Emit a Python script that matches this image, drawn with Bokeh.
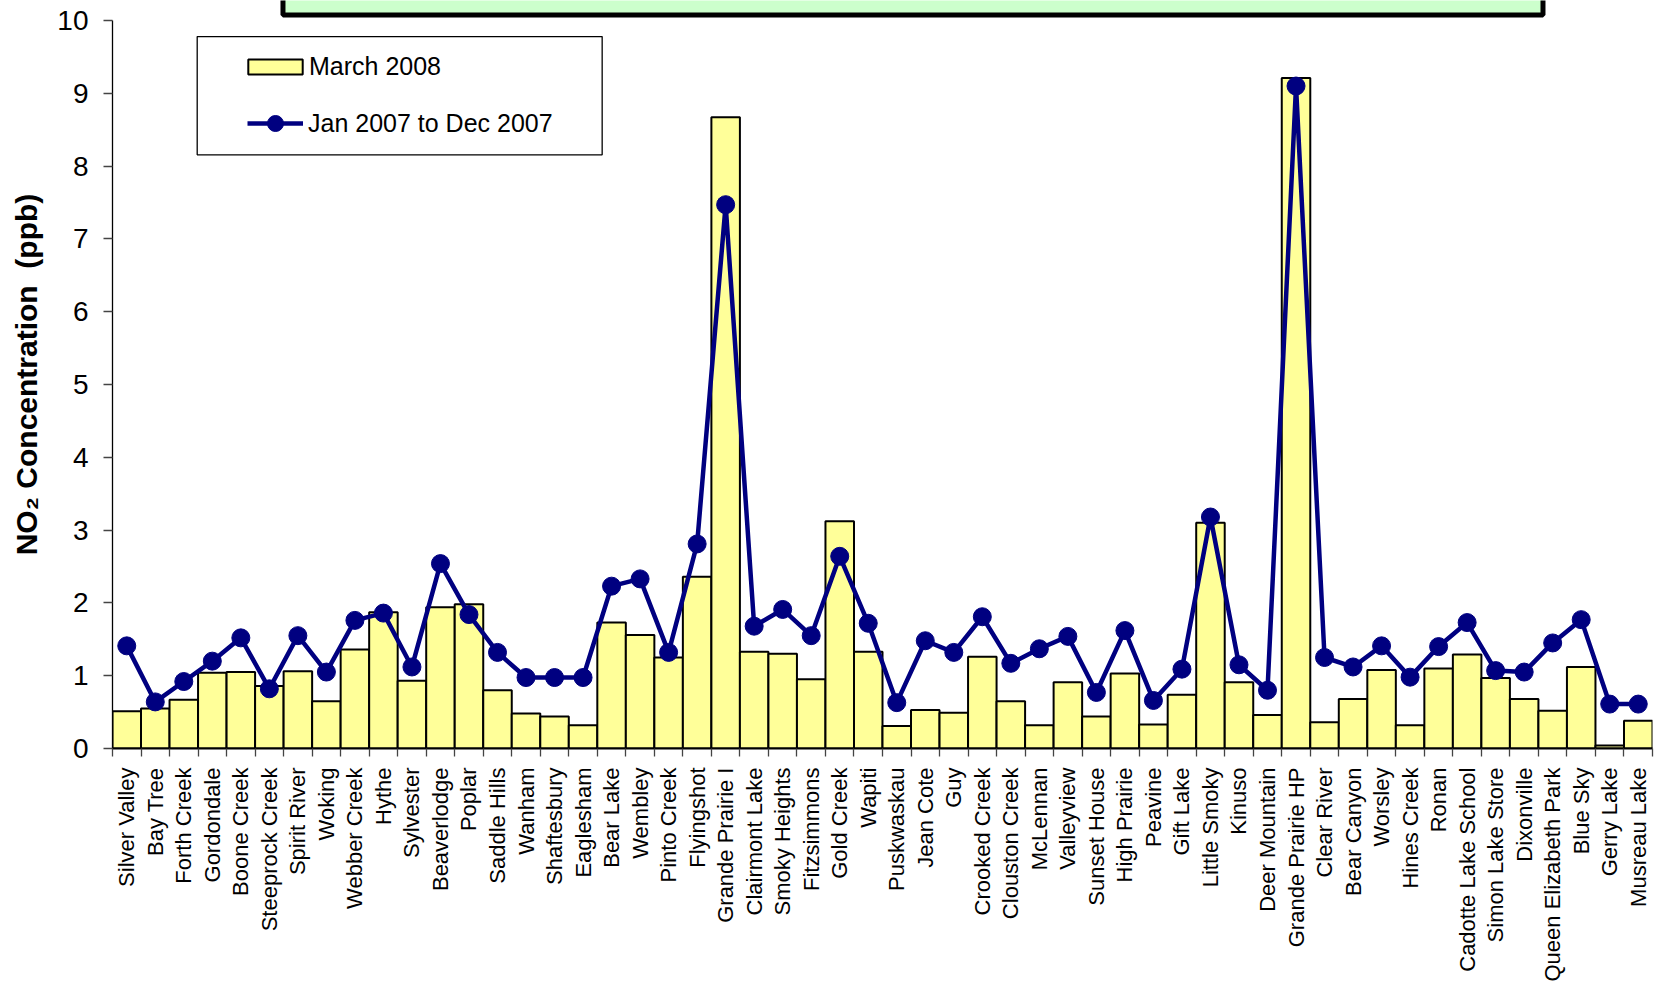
import math
from bokeh.plotting import figure
from bokeh.models import (Range1d, FixedTicker, LinearAxis, Legend, LegendItem,
                          BoxAnnotation, ColumnDataSource)
from bokeh.embed import file_html
from bokeh.resources import INLINE

sites = ["Silver Valley", "Bay Tree", "Forth Creek", "Gordondale", "Boone Creek",
         "Steeprock Creek", "Spirit River", "Woking", "Webber Creek", "Hythe",
         "Sylvester", "Beaverlodge", "Poplar", "Saddle Hills", "Wanham",
         "Shaftesbury", "Eaglesham", "Bear Lake", "Wembley", "Pinto Creek",
         "Flyingshot", "Grande Prairie I", "Clairmont Lake", "Smoky Heights",
         "Fitzsimmons", "Gold Creek", "Wapiti", "Puskwaskau", "Jean Cote", "Guy",
         "Crooked Creek", "Clouston Creek", "McLennan", "Valleyview", "Sunset House",
         "High Prairie", "Peavine", "Gift Lake", "Little Smoky", "Kinuso",
         "Deer Mountain", "Grande Prairie HP", "Clear River", "Bear Canyon",
         "Worsley", "Hines Creek", "Ronan", "Cadotte Lake School", "Simon Lake Store",
         "Dixonville", "Queen Elizabeth Park", "Blue Sky", "Gerry Lake", "Musreau Lake"]

march_2008 = [0.51, 0.55, 0.67, 1.04, 1.05, 0.86, 1.06, 0.65, 1.36, 1.87,
              0.93, 1.94, 1.98, 0.80, 0.48, 0.44, 0.32, 1.73, 1.56, 1.25,
              2.36, 8.67, 1.33, 1.30, 0.95, 3.12, 1.33, 0.31, 0.53, 0.49,
              1.26, 0.65, 0.32, 0.91, 0.44, 1.03, 0.33, 0.74, 3.10, 0.91,
              0.46, 9.21, 0.36, 0.68, 1.08, 0.32, 1.10, 1.29, 0.97, 0.68,
              0.52, 1.12, 0.04, 0.38]

jan_dec_2007 = [1.41, 0.64, 0.92, 1.20, 1.52, 0.82, 1.55, 1.05, 1.76, 1.86,
                1.12, 2.54, 1.84, 1.32, 0.975, 0.975, 0.975, 2.23, 2.33, 1.32,
                2.81, 7.47, 1.68, 1.91, 1.55, 2.64, 1.72, 0.63, 1.48, 1.32,
                1.81, 1.17, 1.37, 1.54, 0.77, 1.62, 0.66, 1.09, 3.18, 1.15,
                0.80, 9.10, 1.25, 1.12, 1.41, 0.98, 1.40, 1.73, 1.07, 1.05,
                1.45, 1.77, 0.61, 0.61]

y_ticks = list(range(0, 11))

FONT = "Liberation Sans"
n = len(sites)
xc = [i + 0.5 for i in range(n)]
src = ColumnDataSource(dict(x=xc, site=sites, march=march_2008, year=jan_dec_2007))

p = figure(width=1660, height=988, x_range=Range1d(0, n), y_range=Range1d(0, 10.275),
           output_backend="svg", toolbar_location=None,
           x_axis_type=None, y_axis_type=None,
           min_border_left=112, min_border_right=8, min_border_top=0,
           min_border_bottom=240)
p.outline_line_color = None
p.background_fill_color = "white"
p.border_fill_color = "white"

# y axis
yax = LinearAxis(ticker=FixedTicker(ticks=y_ticks), bounds=(0, 10))
yax.axis_line_color = "black"
yax.axis_line_width = 1.3
yax.major_tick_out = 9
yax.major_tick_in = 0
yax.major_tick_line_color = "#444444"
yax.major_tick_line_width = 1.3
yax.minor_tick_line_color = None
yax.major_label_text_font = FONT
yax.major_label_text_font_size = "28px"
yax.major_label_text_color = "black"
yax.major_label_standoff = 15
yax.axis_label = "NO\u2082 Concentration\u00a0 (ppb)"
yax.axis_label_text_font = FONT
yax.axis_label_text_font_size = "30px"
yax.axis_label_text_font_style = "bold"
yax.axis_label_text_color = "black"
yax.axis_label_standoff = 11
p.add_layout(yax, "left")

# x axis: labels at category centres, ticks at category boundaries
xax = LinearAxis(ticker=FixedTicker(ticks=xc, minor_ticks=list(range(n + 1))),
                 major_label_overrides={x: s for x, s in zip(xc, sites)})
xax.axis_line_color = "black"
xax.axis_line_width = 2
xax.major_tick_out = 0
xax.major_tick_in = 0
xax.minor_tick_out = 8
xax.minor_tick_in = 0
xax.minor_tick_line_color = "#444444"
xax.minor_tick_line_width = 1.3
xax.major_label_orientation = math.pi / 2
xax.major_label_text_font = FONT
xax.major_label_text_font_size = "22px"
xax.major_label_text_color = "black"
xax.major_label_standoff = 11
p.add_layout(xax, "below")

bars = p.vbar(x="x", top="march", width=1.0, bottom=0, source=src,
              fill_color="#FFFF99", line_color="black", line_width=2)
ln = p.line("x", "year", source=src, line_color="#000080", line_width=4.5)
pts = p.scatter("x", "year", source=src, size=18, fill_color="#000080",
                line_color="#000080")

# title box cut off at the top
p.add_layout(BoxAnnotation(left=5.978, right=50.16, bottom=10.077, top=11,
                           fill_color="#CCFFCC", fill_alpha=1,
                           line_color="black", line_alpha=1, line_width=5))
# legend frame
p.add_layout(BoxAnnotation(left=2.97, right=17.17, bottom=8.155, top=9.78,
                           fill_color="white", fill_alpha=1,
                           line_color="black", line_alpha=1, line_width=1.3))

common = dict(padding=0, margin=0, border_line_color=None, background_fill_alpha=0,
              label_text_font=FONT, label_text_font_size="25px",
              label_text_color="black")
legA = Legend(items=[LegendItem(label="March 2008", renderers=[bars])],
              location=(129, 667), glyph_width=68, glyph_height=19,
              label_height=19, label_standoff=0, **common)
legB = Legend(items=[LegendItem(label="Jan 2007 to Dec 2007", renderers=[ln, pts])],
              location=(135, 605), glyph_width=56, glyph_height=40,
              label_height=40, label_standoff=5, **common)
p.add_layout(legA)
p.add_layout(legB)

open("out.html", "w").write(file_html(p, INLINE))
